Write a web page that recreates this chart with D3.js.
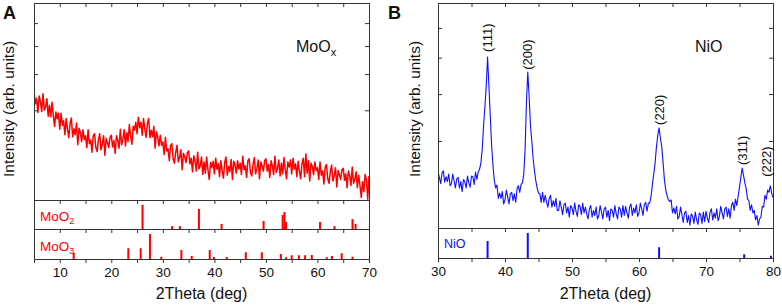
<!DOCTYPE html>
<html><head><meta charset="utf-8">
<script src="https://cdn.jsdelivr.net/npm/d3@7"></script>
<style>body{margin:0;background:#fff}svg{display:block;font-family:"Liberation Sans",Arial,sans-serif}</style>
</head><body><svg id="c" width="782" height="306"></svg>
<script>
// ---------- DATA ----------
// Panel A: MoOx XRD pattern, 2theta from 5 deg in 0.25 deg steps
const moStart = 5, moStep = 0.25;
const moIntensity = [
351,316,330,295,336,321,297,342,300,308,329,286,312,285,320,287,264,296,280,293,
258,293,266,276,247,281,258,241,271,282,243,259,247,271,228,260,251,234,257,238,
245,223,257,230,237,215,245,249,223,216,237,249,219,229,245,210,240,232,223,242,
246,224,236,213,245,236,222,258,228,238,257,226,251,234,268,245,229,264,256,273,
249,284,261,273,246,281,259,242,270,281,241,256,243,264,222,253,243,226,246,227,
233,211,242,217,221,201,227,230,204,197,215,227,199,206,219,187,213,207,198,214,
217,196,205,184,209,200,185,215,188,193,207,180,199,182,207,187,173,198,190,200,
181,205,188,196,177,201,186,175,198,207,179,192,184,203,173,200,194,182,201,188,
197,180,208,187,193,176,201,204,183,178,195,206,181,189,202,174,199,193,185,201,
204,185,195,176,201,193,180,208,183,189,202,178,197,181,206,187,174,199,191,202,
181,205,188,196,177,200,185,174,196,205,177,212,182,201,171,197,192,180,199,186,
190,173,199,179,185,167,191,195,174,168,185,194,171,178,190,163,186,180,173,187,
189,172,181,162,185,178,165,191,168,173,184,162,179,165,150,170,157,180,173,148,
178];
// Panel B: NiO XRD pattern, 2theta from 30 deg in 0.2 deg steps
const niStart = 30, niStep = 0.2;
const niIntensity = [
249,240,231,246,250,233,241,234,245,228,
231,245,235,225,238,240,225,234,220,237,
234,225,242,232,226,242,241,230,248,237,
248,252,262,285,330,370,420,502,421,350,
293,259,236,225,229,211,218,211,220,204,
209,222,213,204,217,219,208,217,206,224,
228,219,230,232,245,285,380,458,395,330,
300,270,250,235,225,218,217,206,219,206,
215,207,200,211,215,200,208,201,211,196,
196,208,200,191,203,205,193,200,188,202,
199,191,205,195,189,203,201,191,205,193,
200,192,186,198,202,188,196,190,200,186,
190,202,194,186,198,200,188,196,184,198,
196,188,202,192,186,200,198,188,202,190,
201,193,187,200,204,190,199,193,203,189,
193,205,198,190,203,206,195,205,205,214,
230,245,262,289,310,325,305,289,262,236,
222,214,209,207,209,193,199,192,201,186,
189,200,191,182,193,195,182,190,179,192,
189,181,194,185,180,193,191,181,194,183,
195,187,182,194,198,185,193,187,198,184,
189,201,193,186,198,200,189,198,187,202,
206,196,210,202,214,226,240,254,243,232,
224,210,208,196,203,193,196,185,190,179,
186,188,201,200,215,210,222,219,228,218,
212];
// Reference patterns (2theta, relative intensity)
const moo2Pos = [26.06,31.8,33.3,37.0,41.4,49.55,53.24,53.6,53.9,60.5,63.3,66.8,67.4];
const moo2Rel = [100,12,12,83,21,33,58,70,29,29,12,41,21];
const moo3Pos = [12.7,23.3,25.7,27.5,29.7,33.6,35.6,39.1,39.9,42.4,46.1,49.2,52.9,53.9,55.0,56.4,57.6,58.9,61.8,62.8,64.7,66.8];
const moo3Rel = [24,43,43,100,9,36,12,36,8,8,27,27,20,7,15,15,15,16,7,12,23,9];
const nioPos = [37.4,43.4,63.0,75.7,79.7];
const nioRel = [68,100,43,15,9];
// Peak labels
const peakLabels = ["(111)","(200)","(220)","(311)","(222)"];
const peakLabelPos = [37.4,43.35,63.0,75.4,79.0];
const peakLabelInt = [518,464,331,259,241];
// Axes
const xTicksA = [5,10,15,20,25,30,35,40,45,50,55,60,65,70];
const xTicksB = [30,35,40,45,50,55,60,65,70,75,80];
const yTickVals = [300,400,500,600];

// ---------- DRAW ----------
const svg = d3.select("#c");
const axisColor = "#333";
const red = "#ff0000", blue = "#1010ff";

function frame(x0,x1,y0,y1){
  svg.append("rect").attr("x",x0+0.5).attr("y",y0+0.5).attr("width",x1-x0).attr("height",y1-y0)
    .attr("fill","none").attr("stroke",axisColor).attr("stroke-width",1);
}
function hTicks(x, yPos, vals, labels){
  const ax = d3.axisBottom(x).tickValues(vals).tickSize(4).tickSizeOuter(0)
    .tickFormat(labels ? (d => d % 10 === 0 ? d : "") : "");
  const a = svg.append("g").attr("transform",`translate(0,${yPos})`).call(ax);
  a.select(".domain").remove();
  a.selectAll("line").attr("stroke",axisColor);
  a.selectAll("text").attr("y",8).attr("dy","0.71em").attr("fill","#111")
    .style("font-size","13.5px").style("font-family","Liberation Sans, Arial, sans-serif");
}
function vTicks(y, xPos, side){
  const ax = (side==="left" ? d3.axisRight(y) : d3.axisLeft(y)).tickValues(yTickVals).tickSize(4).tickSizeOuter(0).tickFormat("");
  const a = svg.append("g").attr("transform",`translate(${xPos},0)`).call(ax);
  a.select(".domain").remove();
  a.selectAll("line").attr("stroke",axisColor);
}

function panel(o){
  const x = d3.scaleLinear().domain(o.xDomain).range([o.left, o.right]);
  const y = d3.scaleLog().domain(o.yDomain).range([o.mainBottom, o.top]);
  const clipId = "clip"+o.id;
  svg.append("clipPath").attr("id",clipId).append("rect")
    .attr("x",o.left).attr("y",o.top).attr("width",o.right-o.left).attr("height",o.mainBottom-o.top);
  const line = d3.line().x((d,i)=>x(o.start+i*o.step)).y(d=>y(d));
  svg.append("path").datum(o.data).attr("clip-path",`url(#${clipId})`)
    .attr("fill","none").attr("stroke",o.color).attr("stroke-width",o.lw).attr("stroke-linejoin","round")
    .attr("d",line);
  frame(o.left,o.right,o.top,o.mainBottom);
  hTicks(x, o.top, o.xTicks, false);
  hTicks(x, o.mainBottom, o.xTicks, false);
  vTicks(y, o.left, "left");
  vTicks(y, o.right, "right");
  o.subs.forEach((s,k)=>{
    frame(o.left,o.right,s.top,s.bottom);
    const ys = d3.scaleLinear().domain([0,120]).range([s.bottom, s.top]);
    svg.append("g").selectAll("rect").data(s.pos).join("rect")
      .attr("x",d=>x(d)-1).attr("width",2)
      .attr("y",(d,i)=>ys(s.rel[i])).attr("height",(d,i)=>s.bottom-ys(s.rel[i]))
      .attr("fill",o.color);
    const t = svg.append("text").attr("x",o.left+6).attr("y",s.labelY).attr("fill",o.color)
      .style("font-size",s.fs+"px");
    t.append("tspan").text(s.name);
    if(s.subText){ t.append("tspan").attr("dy",3).style("font-size","9px").text(s.subText); }
    hTicks(x, s.bottom, o.xTicks, k===o.subs.length-1);
  });
  return {x,y};
}

const A = panel({id:"A", left:34, right:369, top:3, mainBottom:200, xDomain:[5,70], yDomain:[147,704],
  start:moStart, step:moStep, data:moIntensity, color:red, lw:1.5, xTicks:xTicksA,
  subs:[{top:200,bottom:229,pos:moo2Pos,rel:moo2Rel,name:"MoO",subText:"2",labelY:221,fs:13.5},
        {top:229,bottom:259,pos:moo3Pos,rel:moo3Rel,name:"MoO",subText:"3",labelY:251,fs:13.5}]});
const B = panel({id:"B", left:438, right:773, top:3, mainBottom:228, xDomain:[30,80], yDomain:[176,699],
  start:niStart, step:niStep, data:niIntensity, color:blue, lw:1.1, xTicks:xTicksB,
  subs:[{top:228,bottom:258,pos:nioPos,rel:nioRel,name:"NiO",subText:null,labelY:248,fs:12.5}]});

peakLabels.forEach((lab,i)=>{
  svg.append("text").attr("transform",`translate(${B.x(peakLabelPos[i])+4.5},${B.y(peakLabelInt[i])}) rotate(-90)`)
    .attr("text-anchor","start").attr("fill","#111").style("font-size","13px").text(lab);
});

const ma = svg.append("text").attr("x",296).attr("y",52).attr("fill","#111").style("font-size","16px");
ma.append("tspan").text("MoO");
ma.append("tspan").attr("dy",4).style("font-size","11px").text("x");
svg.append("text").attr("x",695).attr("y",52).attr("fill","#111").style("font-size","16px").text("NiO");

[[14,109],[420,109]].forEach(p=>{
  svg.append("text").attr("transform",`translate(${p[0]},${p[1]}) rotate(-90)`).attr("text-anchor","middle")
    .attr("fill","#111").style("font-size","15.5px").text("Intensity (arb. units)");
});
[[201.5,299],[605.5,299]].forEach(p=>{
  svg.append("text").attr("x",p[0]).attr("y",p[1]).attr("text-anchor","middle")
    .attr("fill","#111").style("font-size","16px").text("2Theta (deg)");
});
svg.append("text").attr("x",3).attr("y",19).attr("fill","#111").style("font-size","18px").style("font-weight","bold").text("A");
svg.append("text").attr("x",388).attr("y",19).attr("fill","#111").style("font-size","18px").style("font-weight","bold").text("B");
</script></body></html>
